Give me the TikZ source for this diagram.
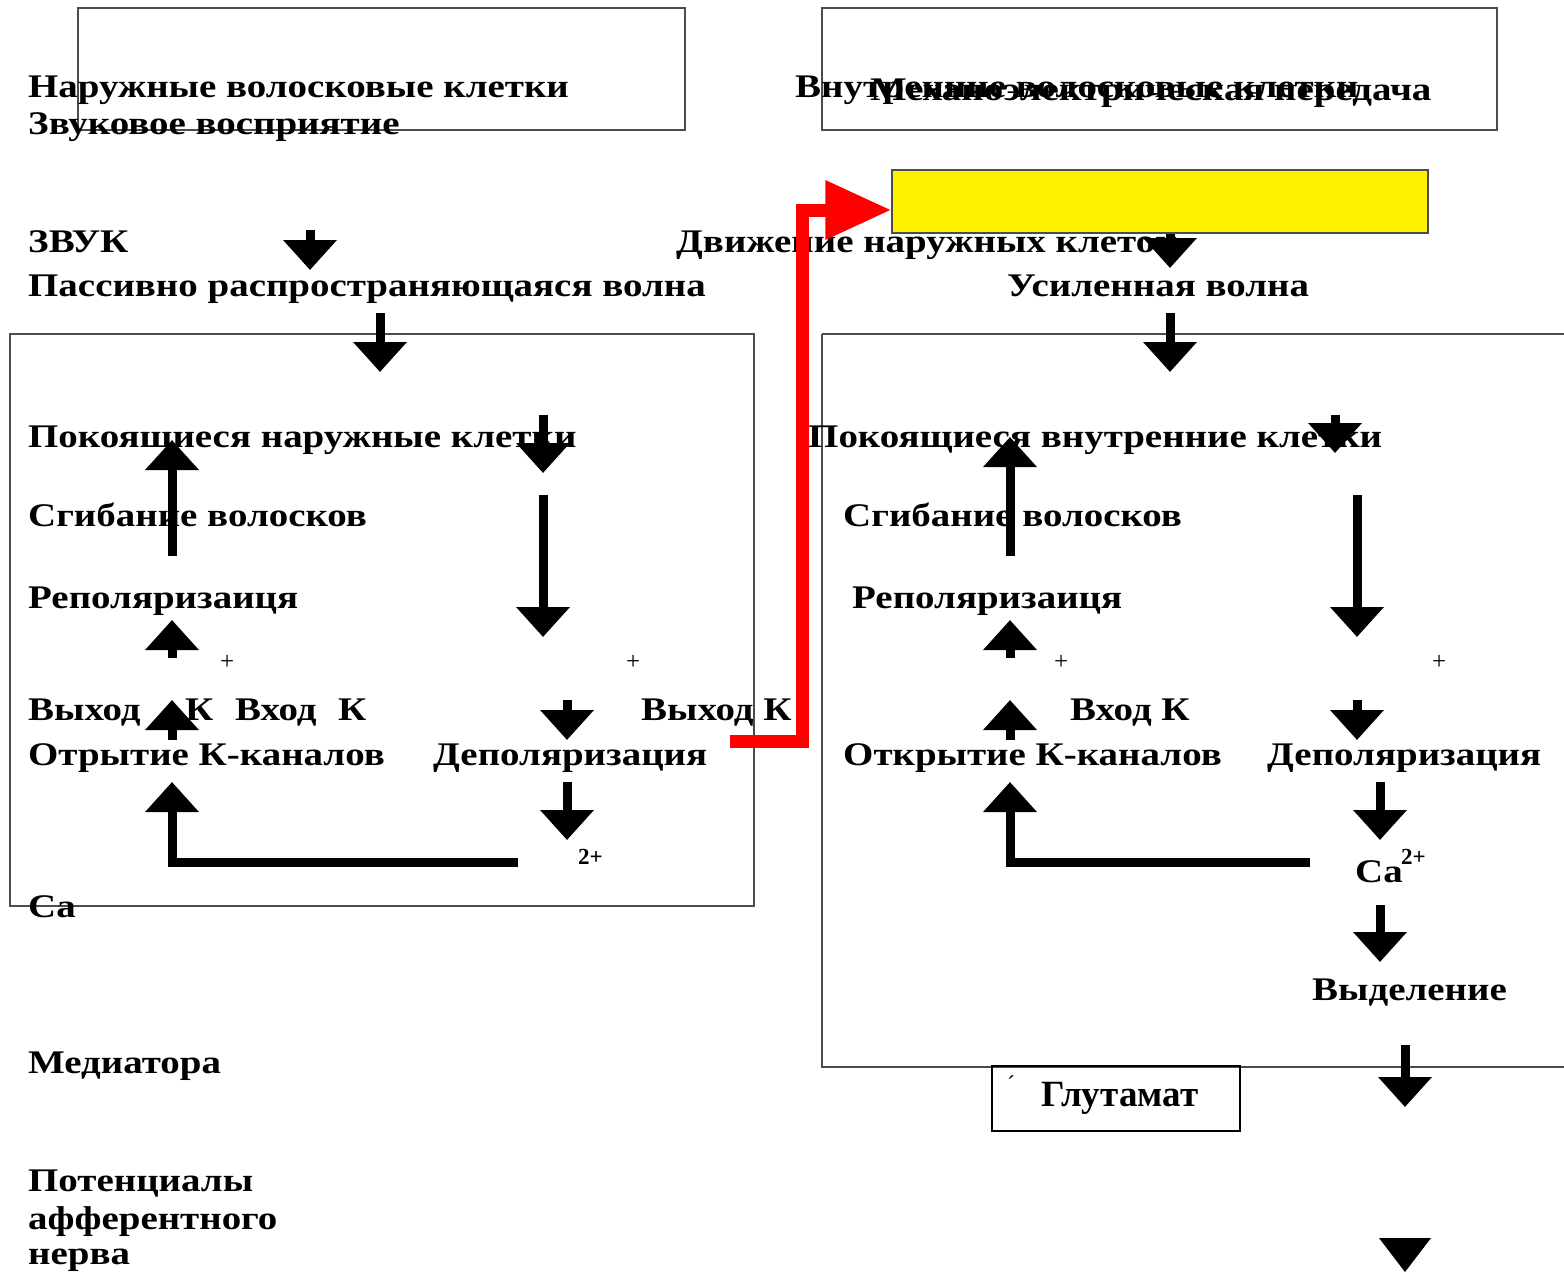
\documentclass[tikz,border=0pt]{standalone}
\usepackage{fontspec}
\setmainfont{Liberation Serif}
\newfontfamily\wfont{Liberation Serif}[FakeStretch=1.18]
\usetikzlibrary{arrows.meta}
\tikzset{
  lbl/.style={anchor=base west, inner sep=0pt, font=\wfont\fontsize{33}{33}\selectfont\bfseries},
  sml/.style={anchor=base west, inner sep=0pt, font=\fontsize{25}{25}\selectfont},
  smb/.style={anchor=base west, inner sep=0pt, font=\fontsize{23}{23}\selectfont\bfseries},
  frame/.style={draw=black!70, line width=1.3pt},
  barrow/.style={line width=9pt, line cap=butt, -{Triangle[width=52pt,length=30pt]}},
  redarrow/.style={draw=red, line width=13pt, line cap=butt, -{Triangle[width=56pt,length=66pt]}},
}
\begin{document}
\begin{tikzpicture}[x=1pt,y=-1pt]
\useasboundingbox (0,0) rectangle (1564,1272);
\fill[white] (0,0) rectangle (1564,1272);

% frames
\draw[frame] (78,8) rectangle (685,130);
\draw[frame] (822,8) rectangle (1497,130);
\draw[frame] (10,334) rectangle (754,906);
\draw[frame] (822,334) -- (1564,334) (822,334) -- (822,1067) -- (1564,1067);

% texts left
\node[lbl] (t1) at (28,97) {Наружные волосковые клетки};
\node[lbl] (t2) at (28,134) {Звуковое восприятие};
\node[lbl] (t3) at (795,97) {Внутренние волосковые клетки};
\node[lbl] (t4) at (870,100) {Механоэлектрическая передача};
\node[lbl] (t5) at (28,252) {ЗВУК};
\node[lbl] (t6) at (28,296) {Пассивно распространяющаяся волна};
\node[lbl] (t7) at (676,252) {Движение наружных клеток};
\node[lbl] (t8) at (1007,296) {Усиленная волна};
\node[lbl] (t9) at (28,447) {Покоящиеся наружные клетки};
\node[lbl] (t10) at (28,526) {Сгибание волосков};
\node[lbl] (t11) at (28,608) {Реполяризаиця};
\node[sml] (t12) at (220,669) {+};
\node[sml] (t13) at (626,669) {+};
\node[lbl] (t14a) at (28,720) {Выход};
\node[lbl] (t14b) at (185,720) {К};
\node[lbl] (t14c) at (235,720) {Вход};
\node[lbl] (t14d) at (338,720) {К};
\node[lbl] (t15) at (641,720) {Выход К};
\node[lbl] (t16) at (28,765) {Отрытие К-каналов};
\node[lbl] (t17) at (433,765) {Деполяризация};
\node[smb] (t18) at (578,864) {2+};
\node[lbl] (t19) at (28,917) {Ca};
\node[lbl] (t20) at (28,1073) {Медиатора};
\node[lbl] (t21) at (28,1191) {Потенциалы};
\node[lbl] (t22) at (28,1229) {афферентного};
\node[lbl] (t23) at (28,1264) {нерва};

% texts right
\node[lbl] (r1) at (808,447) {Покоящиеся внутренние клетки};
\node[lbl] (r2) at (843,526) {Сгибание волосков};
\node[lbl] (r3) at (852,608) {Реполяризаиця};
\node[sml] (r4) at (1054,669) {+};
\node[sml] (r5) at (1432,669) {+};
\node[lbl] (r6) at (1070,720) {Вход К};
\node[lbl] (r7) at (843,765) {Открытие К-каналов};
\node[lbl] (r8) at (1267,765) {Деполяризация};
\node[lbl] (r9) at (1355,882) {Ca};
\node[smb] (r9s) at (1401,864) {2+};
\node[lbl] (r10) at (1312,1000) {Выделение};

% glutamate box
\node[draw=black, line width=2pt, minimum width=248pt, minimum height=65pt, inner sep=0pt,
      font=\fontsize{37}{37}\selectfont\bfseries] (glu) at (1116,1098.5) {\hspace*{8pt}Глутамат};
\node[inner sep=0pt, font=\fontsize{24}{24}\selectfont] (acc) at (1011,1084) {´};

% yellow box
\node[draw=black!70, fill=yellow, line width=1.2pt, minimum width=536pt, minimum height=63pt, inner sep=0pt] (yb) at (1160,201.5) {};

% arrow coordinates
\coordinate (a1s) at (310,230);  \coordinate (a1e) at (310,270);
\coordinate (a2s) at (380,313);  \coordinate (a2e) at (380,372);
\coordinate (a3s) at (172,556);  \coordinate (a3e) at (172,440);
\coordinate (a4s) at (543,415);  \coordinate (a4e) at (543,473);
\coordinate (a5s) at (543,495);  \coordinate (a5e) at (543,637);
\coordinate (a6s) at (172,658);  \coordinate (a6e) at (172,620);
\coordinate (a7s) at (172,740);  \coordinate (a7e) at (172,700);
\coordinate (a8s) at (567,700);  \coordinate (a8e) at (567,740);
\coordinate (a9s) at (518,862);  \coordinate (a9c) at (172,862); \coordinate (a9e) at (172,782);
\coordinate (a10s) at (567,782); \coordinate (a10e) at (567,840);

\coordinate (b1e) at (1170,268);
\coordinate (b2s) at (1170,313); \coordinate (b2e) at (1170,372);
\coordinate (b3s) at (1010,556); \coordinate (b3e) at (1010,437);
\coordinate (b4s) at (1335,415); \coordinate (b4e) at (1335,453);
\coordinate (b5s) at (1357,495); \coordinate (b5e) at (1357,637);
\coordinate (b6s) at (1010,658); \coordinate (b6e) at (1010,620);
\coordinate (b7s) at (1010,740); \coordinate (b7e) at (1010,700);
\coordinate (b8s) at (1357,700); \coordinate (b8e) at (1357,740);
\coordinate (b9s) at (1310,862); \coordinate (b9c) at (1010,862); \coordinate (b9e) at (1010,782);
\coordinate (b10s) at (1380,782); \coordinate (b10e) at (1380,840);
\coordinate (b11s) at (1380,905); \coordinate (b11e) at (1380,962);
\coordinate (b12s) at (1405,1045); \coordinate (b12e) at (1405,1107);

\coordinate (rs) at (730,741); \coordinate (rc1) at (802,741); \coordinate (rc2) at (802,210);

% black arrows
\foreach \s/\e in {a1s/a1e,a2s/a2e,a3s/a3e,a4s/a4e,a5s/a5e,a6s/a6e,a7s/a7e,a8s/a8e,a10s/a10e,
                   b2s/b2e,b3s/b3e,b4s/b4e,b5s/b5e,b6s/b6e,b7s/b7e,b8s/b8e,b10s/b10e,b11s/b11e,b12s/b12e}
  \draw[barrow] (\s) -- (\e);
\draw[barrow] (yb.south -| b1e) -- (b1e);
\draw[barrow, line join=miter] (a9s) -- (a9c) -- (a9e);
\draw[barrow, line join=miter] (b9s) -- (b9c) -- (b9e);
\fill (1379,1238) -- (1431,1238) -- (1405,1272) -- cycle;

% red arrow
\draw[redarrow, line join=miter] (rs) -- (rc1) -- (rc2) -- (rc2 -| yb.west);
\end{tikzpicture}
\end{document}
